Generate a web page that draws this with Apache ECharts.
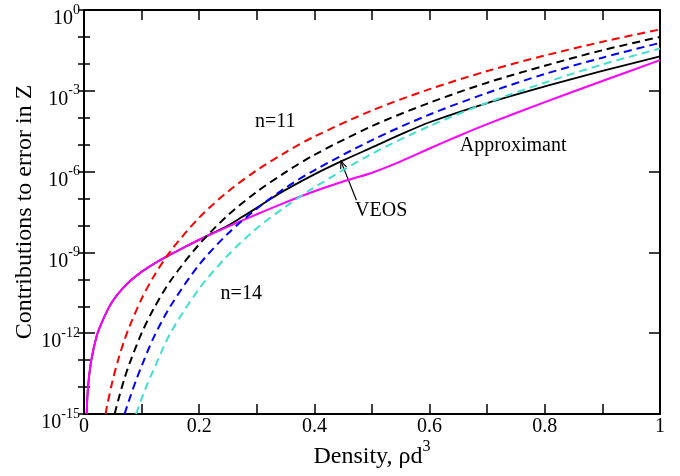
<!DOCTYPE html>
<html>
<head>
<meta charset="utf-8">
<script src="https://cdn.jsdelivr.net/npm/echarts@6/dist/echarts.min.js"></script>
<style>
  html, body { margin: 0; padding: 0; background: #fff; }
  #chart { width: 680px; height: 476px; }
</style>
</head>
<body>
<div id="chart"></div>
<script>
// Truncation error contributions to Z versus reduced density.
// Dashed curves: successive virial-series terms (n = 11 ... 14).
const densN11 = [0.0376, 0.04, 0.05, 0.06, 0.07, 0.08, 0.10, 0.12, 0.15, 0.20, 0.25, 0.30, 0.35, 0.40, 0.50, 0.60, 0.70, 0.80, 0.90, 1.00];
const errN11  = [1.0e-15, 2.0e-15, 1.86e-14, 1.15e-13, 5.4e-13, 2.0e-12, 1.9e-11, 1.17e-10, 1.1e-9, 1.95e-8, 1.82e-7, 1.12e-6, 5.2e-6, 2.0e-5, 1.86e-4, 1.15e-3, 5.4e-3, 2.04e-2, 6.6e-2, 0.19];

const densN12 = [0.0532, 0.06, 0.07, 0.08, 0.10, 0.12, 0.15, 0.20, 0.25, 0.30, 0.35, 0.40, 0.50, 0.60, 0.70, 0.80, 0.90, 1.00];
const errN12  = [1.0e-15, 3.6e-15, 2.0e-14, 8.5e-14, 1.0e-12, 7.4e-12, 8.7e-11, 2.0e-9, 2.4e-8, 1.78e-7, 9.5e-7, 4.2e-6, 4.9e-5, 3.6e-4, 2.0e-3, 8.5e-3, 3.2e-2, 0.1];

const densN13 = [0.0705, 0.08, 0.09, 0.10, 0.12, 0.15, 0.20, 0.25, 0.30, 0.35, 0.40, 0.50, 0.60, 0.70, 0.80, 0.90, 1.00];
const errN13  = [1.0e-15, 4.2e-15, 1.7e-14, 6.0e-14, 6.3e-13, 1.0e-11, 3.5e-10, 5.0e-9, 4.2e-8, 2.5e-7, 1.12e-6, 1.48e-5, 1.32e-4, 8.3e-4, 4.2e-3, 1.7e-2, 6.0e-2];

const densN14 = [0.0905, 0.10, 0.11, 0.12, 0.15, 0.20, 0.25, 0.30, 0.35, 0.40, 0.50, 0.60, 0.70, 0.80, 0.90, 1.00];
const errN14  = [1.0e-15, 3.7e-15, 1.3e-14, 4.0e-14, 1.0e-12, 4.5e-11, 7.9e-10, 7.9e-9, 5.0e-8, 2.6e-7, 4.6e-6, 4.9e-5, 3.6e-4, 2.0e-3, 9.5e-3, 3.7e-2];

// Solid curves: virial equation of state estimate and the approximant.
const densVEOS = [0.0046, 0.007, 0.0127, 0.022, 0.03, 0.043, 0.055, 0.069, 0.08, 0.10, 0.125, 0.15, 0.175, 0.20, 0.225, 0.25, 0.275, 0.30, 0.325, 0.35, 0.40, 0.45, 0.50, 0.55, 0.60, 0.70, 0.80, 0.90, 1.00];
const errVEOS  = [1e-15, 1e-14, 1e-13, 7.9e-13, 2.24e-12, 8.9e-12, 2.24e-11, 5.0e-11, 8.7e-11, 1.9e-10, 4.2e-10, 8.3e-10, 1.58e-9, 2.95e-9, 5.4e-9, 1.0e-8, 2.1e-8, 4.5e-8, 1.0e-7, 2.1e-7, 7.9e-7, 2.6e-6, 7.9e-6, 2.4e-5, 6.8e-5, 3.5e-4, 1.45e-3, 5.5e-3, 1.9e-2];

const densApprox = [0.0046, 0.007, 0.0127, 0.022, 0.03, 0.043, 0.055, 0.069, 0.08, 0.10, 0.125, 0.15, 0.175, 0.20, 0.25, 0.30, 0.35, 0.40, 0.45, 0.50, 0.55, 0.60, 0.65, 0.70, 0.80, 0.90, 1.00];
const errApprox  = [1e-15, 1e-14, 1e-13, 7.9e-13, 2.24e-12, 8.9e-12, 2.24e-11, 5.0e-11, 8.7e-11, 1.9e-10, 4.2e-10, 8.3e-10, 1.58e-9, 2.95e-9, 9.1e-9, 2.6e-8, 7.2e-8, 1.86e-7, 4.3e-7, 9.1e-7, 2.4e-6, 7.2e-6, 2.1e-5, 5.8e-5, 3.8e-4, 2.3e-3, 1.38e-2];

// Text annotations placed in data space
const notes = [
  { text: 'n=11', x: 0.332, y: 6.9e-5 },
  { text: 'n=14', x: 0.273, y: 2.8e-11 },
  { text: 'Approximant', x: 0.745, y: 8.9e-6 },
  { text: 'VEOS', x: 0.516, y: 3.5e-8 }
];
const veosArrow = { from: [0.473, 8.7e-8], to: [0.446, 2.45e-6] };

const FONT = '"Liberation Serif", "Times New Roman", serif';
const pairs = (xs, ys) => xs.map((x, i) => [x, ys[i]]);

const chart = echarts.init(document.getElementById('chart'), null, { renderer: 'canvas' });

const baseX = {
  type: 'value', min: 0, max: 1, interval: 0.1,
  axisLine: { show: true, onZero: false, lineStyle: { color: '#000', width: 2 } },
  axisTick: { show: true, inside: true, length: 10, lineStyle: { color: '#000', width: 1.5 } },
  splitLine: { show: false }
};
const baseY = {
  type: 'log', logBase: 10, min: 1e-15, max: 1,
  axisLine: { show: true, onZero: false, lineStyle: { color: '#000', width: 2 } },
  splitLine: { show: false },
  axisLabel: { show: false }
};

function lineSeries(name, xs, ys, color, dashed, width) {
  return {
    name, type: 'line', xAxisIndex: 0, yAxisIndex: 0,
    data: pairs(xs, ys), showSymbol: false, symbol: 'none',
    smooth: 0.3,
    lineStyle: { color, width, type: dashed ? [8, 5] : 'solid' },
    emphasis: { disabled: true }, silent: true, z: dashed ? 3 : 2
  };
}

chart.setOption({
  backgroundColor: '#ffffff',
  animation: false,
  grid: { left: 84, right: 20, top: 10, bottom: 62 },
  xAxis: [
    Object.assign({}, baseX, {
      position: 'bottom',
      name: '{a|Density, ρd}{s|3}', nameLocation: 'middle', nameGap: 25,
      nameMoveOverlap: false,
      nameTextStyle: {
        rich: {
          a: { fontFamily: FONT, fontSize: 24, color: '#000', lineHeight: 30, verticalAlign: 'bottom' },
          s: { fontFamily: FONT, fontSize: 16, color: '#000', lineHeight: 10, verticalAlign: 'top' }
        }
      },
      axisLabel: {
        show: true, margin: 3, color: '#000', fontFamily: FONT, fontSize: 20,
        showMinLabel: true, showMaxLabel: true, hideOverlap: false,
        formatter: v => {
          const k = Math.round(v * 10);
          if (k % 2) return '';
          return k === 0 ? '0' : k === 10 ? '1' : (k / 10).toFixed(1);
        }
      }
    }),
    Object.assign({}, baseX, { position: 'top', axisLabel: { show: false } })
  ],
  yAxis: [
    Object.assign({}, baseY, {
      position: 'left', interval: 3,
      axisTick: { show: true, inside: true, length: 11, lineStyle: { color: '#000', width: 1.5 } },
      name: 'Contributions to error in Z', nameLocation: 'middle', nameGap: 47,
      nameMoveOverlap: false,
      nameTextStyle: { fontFamily: FONT, fontSize: 24, color: '#000' },
      axisLabel: {
        show: true, margin: 4, padding: [12, 0, 0, 0],
        showMinLabel: true, showMaxLabel: true, hideOverlap: false,
        formatter: v => '{b|10}{s|' + Math.round(Math.log10(v)) + '}',
        rich: {
          b: { fontFamily: FONT, fontSize: 20, color: '#000', lineHeight: 26, verticalAlign: 'bottom' },
          s: { fontFamily: FONT, fontSize: 14, color: '#000', lineHeight: 8, verticalAlign: 'top' }
        }
      }
    }),
    Object.assign({}, baseY, {
      position: 'left', interval: 1, axisLine: { show: false },
      axisTick: { show: true, inside: true, length: 6, lineStyle: { color: '#000', width: 1.5 } }
    }),
    Object.assign({}, baseY, {
      position: 'right', interval: 3,
      axisTick: { show: true, inside: true, length: 11, lineStyle: { color: '#000', width: 1.5 } }
    }),
    Object.assign({}, baseY, {
      position: 'right', interval: 1, axisLine: { show: false },
      axisTick: { show: true, inside: true, length: 6, lineStyle: { color: '#000', width: 1.5 } }
    })
  ],
  series: [
    lineSeries('VEOS', densVEOS, errVEOS, '#000000', false, 1.8),
    lineSeries('Approximant', densApprox, errApprox, '#ff00ff', false, 2),
    lineSeries('n=14', densN14, errN14, '#40e0d0', true, 2),
    lineSeries('n=13', densN13, errN13, '#0000ff', true, 2),
    lineSeries('n=12', densN12, errN12, '#000000', true, 2),
    lineSeries('n=11', densN11, errN11, '#ff0000', true, 2)
  ]
});

// Annotation text and the arrow pointing at the VEOS curve
const finder = { xAxisIndex: 0, yAxisIndex: 0 };
const graphics = notes.map(n => {
  const p = chart.convertToPixel(finder, [n.x, n.y]);
  return {
    type: 'text', x: p[0], y: p[1], silent: true,
    style: { text: n.text, fontFamily: FONT, fontSize: 20, fill: '#000', align: 'center', verticalAlign: 'middle' }
  };
});
const tail = chart.convertToPixel(finder, veosArrow.from);
const tip = chart.convertToPixel(finder, veosArrow.to);
const ang = Math.atan2(tail[1] - tip[1], tail[0] - tip[0]);
const headLen = 8, spread = 0.4;
graphics.push({
  type: 'line', silent: true,
  shape: { x1: tail[0], y1: tail[1], x2: tip[0], y2: tip[1] },
  style: { stroke: '#000', lineWidth: 1.2 }
});
graphics.push({
  type: 'polyline', silent: true,
  shape: { points: [
    [tip[0] + headLen * Math.cos(ang - spread), tip[1] + headLen * Math.sin(ang - spread)],
    [tip[0], tip[1]],
    [tip[0] + headLen * Math.cos(ang + spread), tip[1] + headLen * Math.sin(ang + spread)]
  ] },
  style: { stroke: '#000', lineWidth: 1.2, fill: null }
});
chart.setOption({ graphic: graphics });
</script>
</body>
</html>
